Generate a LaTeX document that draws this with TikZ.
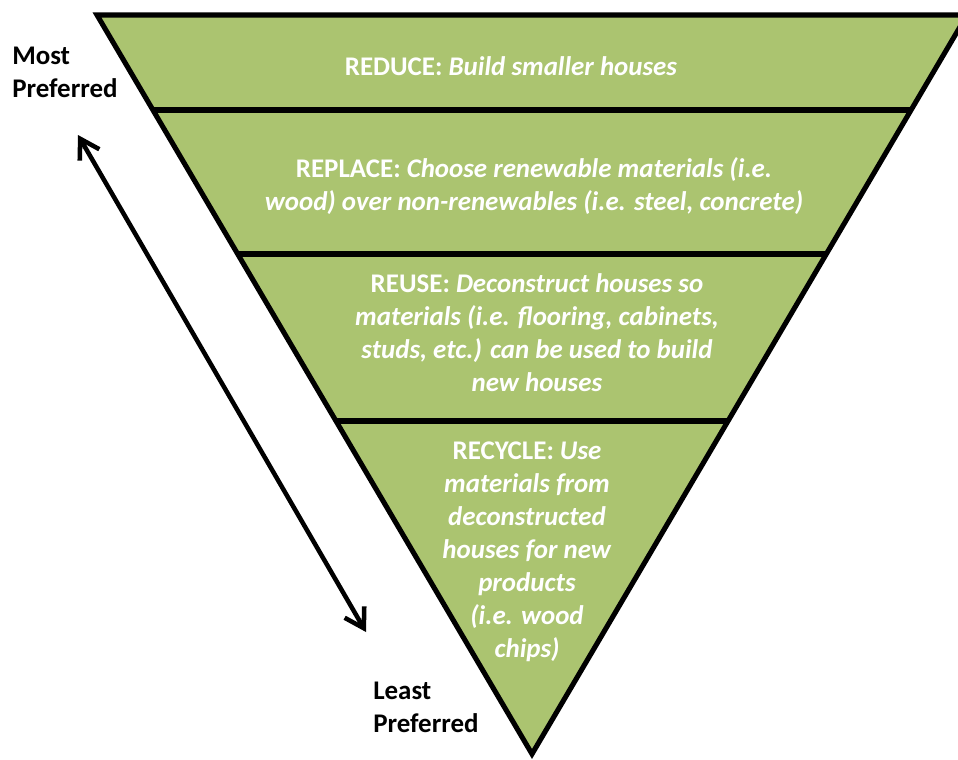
\documentclass[tikz,border=0pt]{standalone}
\usepackage{fontspec}
\setmainfont{Carlito}
\usetikzlibrary{arrows.meta,calc}
\definecolor{leaf}{RGB}{171,196,112}
\begin{document}
\begin{tikzpicture}[x=0.75pt,y=-0.75pt,
  txt/.style={font=\fontsize{20.2}{24.75}\selectfont\bfseries, inner sep=0pt},
  lbl/.style={txt, text=white, align=center, anchor=base},
  side/.style={txt, text=black, align=left, anchor=base west},
  sepline/.style={line width=4pt},
  edge/.style={line width=3.8pt, line join=miter},
  dbl/.style={line width=3.4pt, {Straight Barb[length=14pt,width=17pt]}-{Straight Barb[length=14pt,width=17pt]}}]
\useasboundingbox (0,0) rectangle (958,760);
\coordinate (TL) at (97,15);
\coordinate (TR) at (967,15);
\coordinate (A) at (532,754);
\fill[leaf] (TL) -- (TR) -- (A) -- cycle;
\coordinate (L1) at ($(TL)!0.1285!(A)$);
\coordinate (R1) at ($(TR)!0.1285!(A)$);
\coordinate (L2) at ($(TL)!0.3234!(A)$);
\coordinate (R2) at ($(TR)!0.3234!(A)$);
\coordinate (L3) at ($(TL)!0.5494!(A)$);
\coordinate (R3) at ($(TR)!0.5494!(A)$);
\draw[sepline] (L1) -- (R1);
\draw[sepline] (L2) -- (R2);
\draw[sepline] (L3) -- (R3);
\draw[edge] (TL) -- (TR) -- (A) -- cycle;
\node[lbl] (reduce) at (511,75) {REDUCE: \textit{Build smaller houses}};
\node[lbl] (replace) at (534,210) {REPLACE: \textit{Choose renewable materials (i.e.}\\\textit{wood) over non-renewables (i.e. steel, concrete)}};
\node[lbl] (reuse) at (537,391) {REUSE: \textit{Deconstruct houses so}\\\textit{materials (i.e. flooring, cabinets,}\\\textit{studs, etc.) can be used to build}\\\textit{new houses}};
\node[lbl] (recycle) at (527,657) {RECYCLE: \textit{Use}\\\textit{materials from}\\\textit{deconstructed}\\\textit{houses for new}\\\textit{products}\\\textit{(i.e. wood}\\\textit{chips)}};
\node[side] (most) at (12,97) {Most\\Preferred};
\node[side] (least) at (373,732) {Least\\Preferred};
\coordinate (up) at (78,135);
\coordinate (down) at (366,632);
\draw[dbl] (up) -- (down);
\end{tikzpicture}
\end{document}
